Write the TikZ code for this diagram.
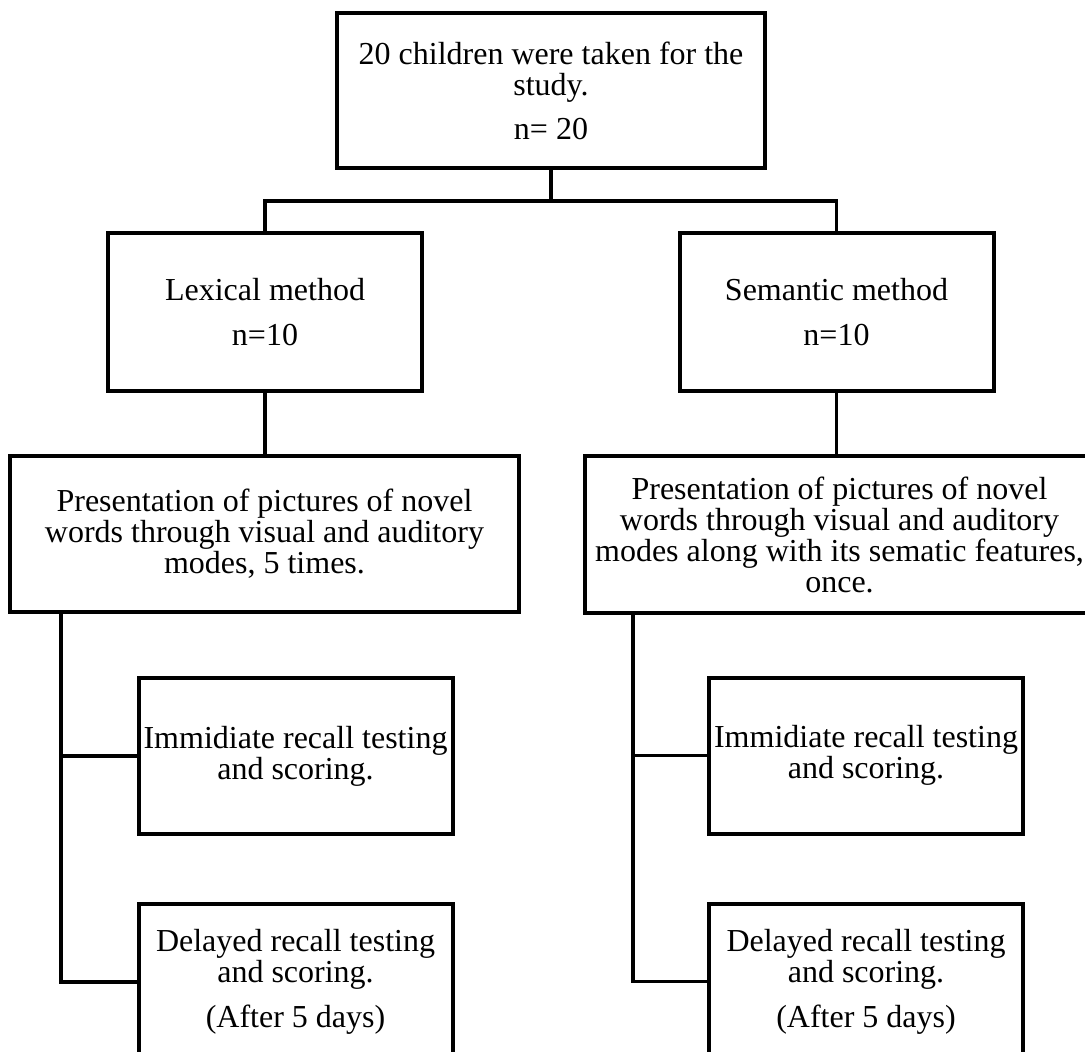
\documentclass[tikz,border=0pt]{standalone}
\usepackage{fontspec}
\setmainfont{Liberation Serif}
\usepackage{tikz}
\usetikzlibrary{positioning}

\begin{document}
\begin{tikzpicture}[x=0.5pt, y=-0.5pt, node distance=33pt,
    every node/.style={font=\fontsize{16}{15.5}\selectfont},
    box/.style={draw, line width=2pt, align=center, inner sep=1pt, minimum width=157pt, minimum height=78pt},
    link/.style={line width=1.8pt}]
    \useasboundingbox (0,0) rectangle (1085,1052);
    % boxes
    \node[box, minimum width=214pt, minimum height=77.5pt] (total) at (551,90.5) {20 children were taken for the\\study.\\[6.5pt]n= 20};
    \node[box, minimum height=79pt] (lexical) at (265,312) {Lexical method\\[7pt]n=10};
    \node[box, minimum height=79pt] (semantic) at (836.5,312) {Semantic method\\[7pt]n=10};
    \node[box, minimum width=254.5pt] (lexpres) at (264.5,534) {Presentation of pictures of novel\\words through visual and auditory\\modes, 5 times.};
    \node[box, minimum width=254.5pt] (sempres) at (839.5,534.5) {Presentation of pictures of novel\\words through visual and auditory\\modes along with its sematic features,\\once.};
    \node[box] (leximm) at (295.5,756) {Immidiate recall testing\\and scoring.};
    \node[box, below=of leximm] (lexdel) {Delayed recall testing\\and scoring.\\[7pt](After 5 days)};
    \node[box] (semimm) at (866,755.5) {Immidiate recall testing\\and scoring.};
    \node[box, below=of semimm] (semdel) {Delayed recall testing\\and scoring.\\[7pt](After 5 days)};
    % connectors
    \coordinate (split) at (551,201);
    \coordinate (lexspine) at ([xshift=26.5pt]lexpres.south west);
    \coordinate (semspine) at ([xshift=25pt]sempres.south west);
    \draw[link] (total) -- (split);
    \draw[link] (lexical.north) |- (split) -| (semantic.north);
    \draw[link] (lexical.south) -- (lexical.south |- lexpres.north);
    \draw[link] (semantic.south) -- (semantic.south |- sempres.north);
    \draw[link] (lexspine) |- (leximm.west);
    \draw[link] (lexspine) |- (lexdel.west);
    \draw[link] (semspine) |- (semimm.west);
    \draw[link] (semspine) |- (semdel.west);
\end{tikzpicture}
\end{document}
